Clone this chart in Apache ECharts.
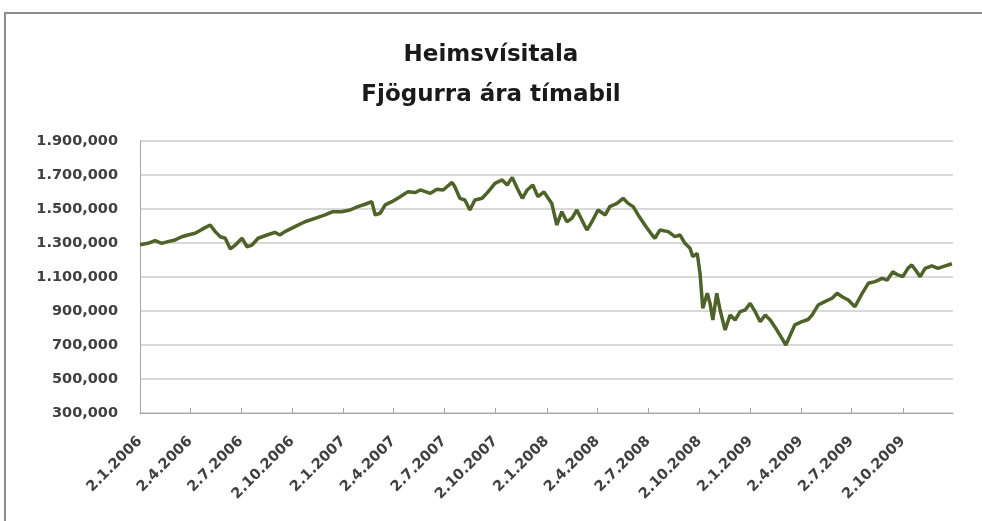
<!DOCTYPE html>
<html>
<head>
<meta charset="utf-8">
<title>Heimsvísitala</title>
<script src="https://cdn.jsdelivr.net/npm/echarts@6/dist/echarts.min.js"></script>
<style>
    html, body { margin: 0; padding: 0; background: #fff; }
    #chart { width: 982px; height: 521px; }
</style>
</head>
<body>
<div id="chart"></div>
<script>
const dates = [
    '2006-01-02', '2006-01-16', '2006-01-29', '2006-02-10', '2006-02-21', '2006-03-06', '2006-03-18', '2006-03-29',
    '2006-04-11', '2006-04-23', '2006-05-08', '2006-05-17', '2006-05-26', '2006-06-04', '2006-06-13', '2006-06-22',
    '2006-07-04', '2006-07-13', '2006-07-22', '2006-08-02', '2006-08-18', '2006-09-01', '2006-09-10', '2006-09-19',
    '2006-10-07', '2006-10-25', '2006-11-12', '2006-11-30', '2006-12-14', '2006-12-30',
    '2007-01-14', '2007-01-28', '2007-02-10', '2007-02-22', '2007-02-28', '2007-03-09', '2007-03-18', '2007-03-30',
    '2007-04-14', '2007-04-28', '2007-05-11', '2007-05-20', '2007-06-07', '2007-06-19', '2007-06-30', '2007-07-16',
    '2007-07-21', '2007-07-30', '2007-08-08', '2007-08-17', '2007-08-26', '2007-09-08', '2007-09-19', '2007-10-01',
    '2007-10-14', '2007-10-23', '2007-11-01', '2007-11-10', '2007-11-19', '2007-11-28', '2007-12-08', '2007-12-17',
    '2007-12-28',
    '2008-01-11', '2008-01-20', '2008-01-29', '2008-02-07', '2008-02-16', '2008-02-25', '2008-03-05', '2008-03-14',
    '2008-03-23', '2008-04-03', '2008-04-16', '2008-04-24', '2008-05-07', '2008-05-18', '2008-05-27', '2008-06-05',
    '2008-06-14', '2008-06-26', '2008-07-09', '2008-07-14', '2008-07-23', '2008-08-07', '2008-08-19', '2008-08-28',
    '2008-09-06', '2008-09-15', '2008-09-20', '2008-09-28', '2008-10-03', '2008-10-08', '2008-10-16', '2008-10-21',
    '2008-10-26', '2008-11-02', '2008-11-08', '2008-11-17', '2008-11-26', '2008-12-05', '2008-12-14', '2008-12-23',
    '2009-01-01', '2009-01-10', '2009-01-19', '2009-01-28', '2009-02-06', '2009-02-18', '2009-02-27', '2009-03-06',
    '2009-03-14', '2009-03-22', '2009-04-04', '2009-04-15', '2009-04-22', '2009-05-03', '2009-05-15', '2009-05-28',
    '2009-06-06', '2009-06-15', '2009-06-26', '2009-07-08', '2009-07-21', '2009-08-01', '2009-08-13', '2009-08-26',
    '2009-09-04', '2009-09-14', '2009-09-23', '2009-10-02', '2009-10-11', '2009-10-18', '2009-10-27', '2009-11-02',
    '2009-11-11', '2009-11-23', '2009-12-04', '2009-12-17', '2009-12-29'
];

const values = [
    1290, 1298, 1314, 1298, 1308, 1318, 1337, 1347,
    1357, 1380, 1406, 1367, 1337, 1328, 1265, 1288,
    1328, 1278, 1288, 1328, 1347, 1363, 1347, 1367,
    1396, 1425, 1445, 1465, 1484, 1484,
    1494, 1514, 1528, 1543, 1465, 1475, 1524, 1543,
    1572, 1602, 1597, 1612, 1592, 1616, 1612, 1657,
    1631, 1563, 1553, 1494, 1553, 1563, 1602, 1651,
    1671, 1641, 1686, 1622, 1563, 1612, 1641, 1573,
    1600,
    1533, 1406, 1484, 1425, 1445, 1494, 1435, 1376,
    1425, 1494, 1465, 1514, 1533, 1563, 1533, 1514,
    1465, 1406, 1347, 1328, 1376, 1367, 1337, 1347,
    1298, 1269, 1220, 1239, 1122, 916, 1004, 945,
    847, 1004, 906, 788, 876, 847, 896, 906,
    945, 896, 837, 876, 847, 788, 739, 700,
    759, 818, 837, 850, 876, 935, 955, 975,
    1004, 984, 965, 925, 1004, 1063, 1073, 1092,
    1082, 1131, 1112, 1102, 1151, 1171, 1131, 1102,
    1151, 1165, 1151, 1165, 1178
];

const xTickLabels = [
    '2.1.2006', '2.4.2006', '2.7.2006', '2.10.2006',
    '2.1.2007', '2.4.2007', '2.7.2007', '2.10.2007',
    '2.1.2008', '2.4.2008', '2.7.2008', '2.10.2008',
    '2.1.2009', '2.4.2009', '2.7.2009', '2.10.2009'
];

const yTicks = [300, 500, 700, 900, 1100, 1300, 1500, 1700, 1900];

document.addEventListener('DOMContentLoaded', function () {
    const myChart = echarts.init(document.getElementById('chart'));

    // d.m.yyyy -> timestamp
    function parseLabel(s) {
        const p = s.split('.');
        return new Date(+p[2], +p[1] - 1, +p[0]).getTime();
    }

    // yyyy-mm-dd -> timestamp
    function parseIso(s) {
        const p = s.split('-');
        return new Date(+p[0], +p[1] - 1, +p[2]).getTime();
    }

    function fmtDate(ts) {
        const d = new Date(ts);
        return d.getDate() + '.' + (d.getMonth() + 1) + '.' + d.getFullYear();
    }

    // 1900 -> "1.900,000"
    function fmtValue(v) {
        const s = Math.round(v).toString();
        return (s.length > 3 ? s.slice(0, -3) + '.' + s.slice(-3) : s) + ',000';
    }

    const tickValues = xTickLabels.map(parseLabel);
    const seriesData = dates.map(function (d, i) {
        return [parseIso(d), values[i]];
    });

    const labelFont = {
        fontFamily: 'DejaVu Sans',
        fontWeight: 'bold',
        fontSize: 14.5,
        color: '#404040'
    };

    const option = {
        animation: false,
        backgroundColor: '#fff',
        title: {
            text: 'Heimsvísitala\nFjögurra ára tímabil',
            left: 'center',
            top: 30,
            textStyle: {
                fontFamily: 'DejaVu Sans',
                fontWeight: 'bold',
                fontSize: 23,
                lineHeight: 40,
                color: '#1a1a1a'
            }
        },
        graphic: [
            {
                type: 'polyline',
                shape: { points: [[5, 521], [5, 13], [982, 13]] },
                style: { stroke: '#8c8c8c', lineWidth: 2, fill: null }
            }
        ],
        grid: {
            left: 140,
            right: 29,
            top: 141,
            bottom: 108,
            containLabel: false
        },
        xAxis: {
            type: 'value',
            min: tickValues[0],
            max: parseIso('2009-12-31'),
            axisLine: {
                lineStyle: { color: '#a6a6a6', width: 1 }
            },
            axisTick: {
                show: true,
                inside: true,
                length: 5,
                customValues: tickValues,
                lineStyle: { color: '#a6a6a6' }
            },
            axisLabel: Object.assign({
                customValues: tickValues,
                rotate: 45,
                margin: 26,
                formatter: function (value) {
                    return fmtDate(value);
                }
            }, labelFont),
            splitLine: { show: false }
        },
        yAxis: {
            type: 'value',
            min: yTicks[0],
            max: yTicks[yTicks.length - 1],
            interval: 200,
            axisLine: {
                show: true,
                lineStyle: { color: '#a6a6a6' }
            },
            axisTick: { show: false },
            axisLabel: Object.assign({
                margin: 22,
                formatter: fmtValue
            }, labelFont),
            splitLine: {
                lineStyle: { color: '#d9d9d9', width: 2 }
            }
        },
        series: [
            {
                name: 'Heimsvísitala',
                type: 'line',
                data: seriesData,
                showSymbol: false,
                smooth: false,
                lineStyle: {
                    color: '#4f6228',
                    width: 3.5
                }
            }
        ]
    };

    myChart.setOption(option);

    window.addEventListener('resize', function () {
        myChart.resize();
    });
});
</script>
</body>
</html>
